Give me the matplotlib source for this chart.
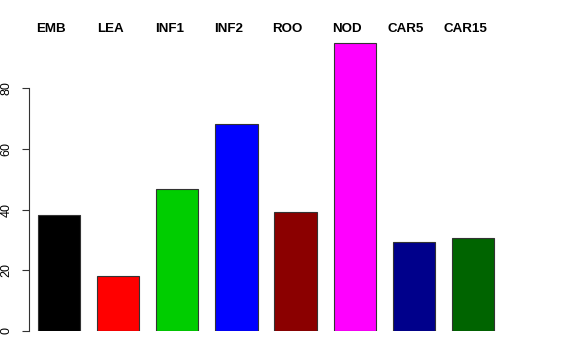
import matplotlib.pyplot as plt

# sample groups and their values
groups = ["EMB", "LEA", "INF1", "INF2", "ROO", "NOD", "CAR5", "CAR15"]
values = [38.1, 18.1, 46.7, 68.2, 39.1, 94.9, 29.2, 30.5]
colors = ["black", "red", "#00CD00", "blue", "#8B0000", "magenta", "#00008B", "#006400"]
yticks = [0, 20, 40, 60, 80]

plt.rcParams['font.family'] = ['Liberation Sans', 'DejaVu Sans']

W, H = 576, 360
fig = plt.figure(figsize=(W / 100, H / 100), dpi=100)

# axes placed in pixel terms so bars land where the R barplot put them
left_px, right_px = 29, 560
bottom_px = 29          # y = 0 line, from bottom of figure
px_per_unit_y = 3.035
ymax = 96
height_px = ymax * px_per_unit_y
ax = fig.add_axes([left_px / W, bottom_px / H, (right_px - left_px) / W, height_px / H])

px_per_unit_x = 42.25
x0 = 59 - 0.9 * px_per_unit_x  # pixel of data x = 0
ax.set_xlim((left_px - x0) / px_per_unit_x, (right_px - x0) / px_per_unit_x)
ax.set_ylim(0, ymax)

centers = [0.9 + 1.4 * i for i in range(len(groups))]
ax.bar(centers, values, width=1.0, color=colors, edgecolor="#333333", linewidth=0.8)

# group names along the top
for c, name in zip(centers, groups):
    ax.text(c - 0.19, 99.5, name, ha='center', va='center', fontsize=9.6,
            fontweight='bold', clip_on=False)

for s in ["top", "right", "bottom"]:
    ax.spines[s].set_visible(False)
ax.spines["left"].set_bounds(0, 80)
ax.spines["left"].set_color("#333333")
ax.spines["left"].set_linewidth(0.8)
ax.set_xticks([])
ax.set_yticks(yticks)
ax.set_yticklabels([str(t) for t in yticks], rotation=90, va='center', fontsize=9)
ax.tick_params(axis='y', length=5, width=0.8, color="#333333", pad=7)

fig.savefig("out.png", dpi=100)
